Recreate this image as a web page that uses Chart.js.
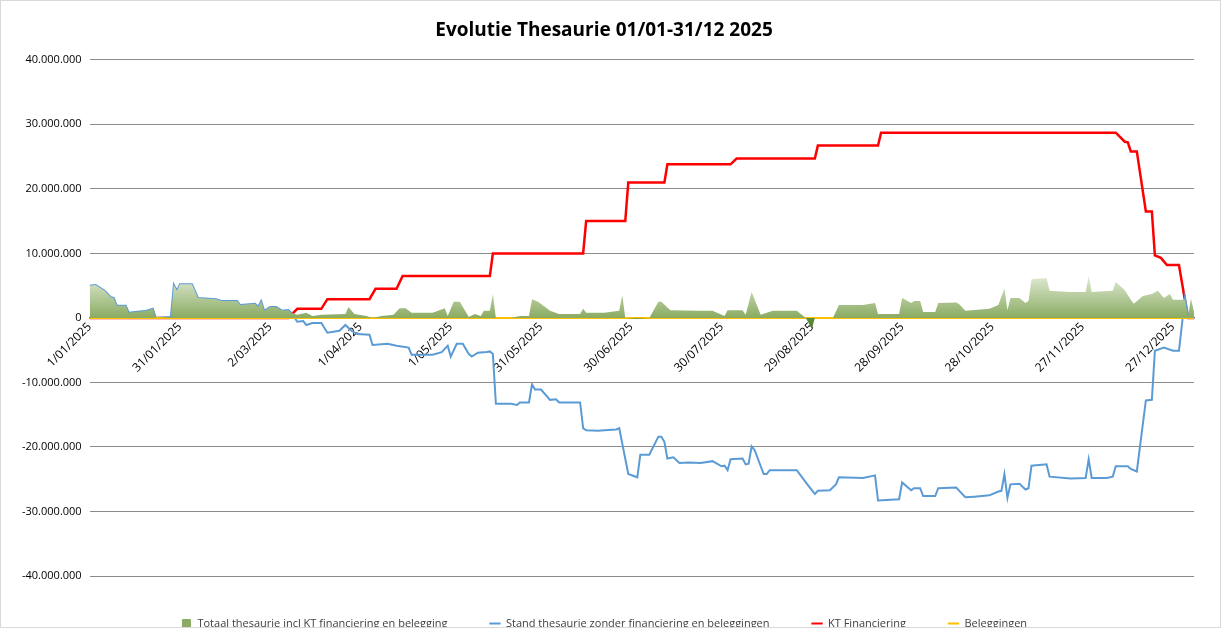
<!DOCTYPE html>
<html><head><meta charset="utf-8">
<script src="https://cdn.jsdelivr.net/npm/chart.js@4"></script>
<style>
html,body{margin:0;padding:0;background:#fff}
#wrap{position:absolute;left:0;top:0;width:1219px;height:626px;border:1px solid #d9d9d9}
</style></head><body>
<div id="wrap"><canvas id="c"></canvas></div>
<script>
const titleText = "Evolutie Thesaurie 01/01-31/12 2025";
const tickDays = [0,30,60,90,120,150,180,210,240,270,300,330,360];
const tickLabels = ["1/01/2025","31/01/2025","2/03/2025","1/04/2025","1/05/2025","31/05/2025","30/06/2025","30/07/2025","29/08/2025","28/09/2025","28/10/2025","27/11/2025","27/12/2025"];
const seriesNames = ["Totaal thesaurie incl KT financiering en belegging","Stand thesaurie zonder financiering en beleggingen","KT Financiering","Beleggingen"];
// [day, value in millions]
const standThesaurie = [[0,5.0],[2,5.1],[5,4.2],[7,3.2],[8,3.1],[9,1.9],[12,1.9],[13,0.8],[19,1.1],[21,1.4],[22,0],[27,0.15],[28,5.1],[29,4.2],[30,5.2],[34,5.2],[36,3.1],[42,2.9],[44,2.6],[49,2.6],[50,2.0],[55,2.2],[56,1.7],[57,2.6],[58,1.1],[60,1.7],[62,1.7],[64,1.1],[66,1.2],[67,0.8],[69,-0.6],[71,-0.5],[72,-1.1],[74,-0.8],[77,-0.8],[79,-2.3],[83,-2.0],[85,-1.1],[87,-2.0],[89,-2.5],[93,-2.6],[94,-4.2],[99,-4.0],[102,-4.3],[106,-4.6],[107,-5.7],[114,-5.7],[117,-5.3],[119,-4.3],[120,-6.0],[122,-4.0],[124,-4.0],[126,-5.6],[127,-6.0],[129,-5.4],[132,-5.3],[133,-5.2],[134,-5.6],[135,-13.3],[140,-13.3],[142,-13.5],[143,-13.1],[146,-13.1],[147,-10.3],[148,-11.1],[150,-11.1],[153,-12.7],[155,-12.6],[156,-13.1],[163,-13.1],[164,-17.1],[165,-17.4],[169,-17.5],[171,-17.4],[175,-17.3],[176,-17.1],[179,-24.2],[182,-24.7],[183,-21.2],[186,-21.2],[189,-18.4],[190,-18.4],[191,-19.2],[192,-21.8],[194,-21.6],[196,-22.5],[199,-22.4],[203,-22.5],[207,-22.2],[210,-23.0],[211,-22.9],[212,-23.6],[213,-21.9],[217,-21.8],[218,-22.7],[219,-22.6],[220,-19.9],[221,-20.5],[224,-24.2],[225,-24.2],[226,-23.6],[235,-23.6],[238,-25.5],[240,-26.7],[241,-27.3],[242,-26.8],[246,-26.7],[248,-25.8],[249,-24.7],[257,-24.8],[261,-24.4],[262,-28.3],[269,-28.1],[270,-25.5],[273,-26.7],[274,-26.4],[276,-26.4],[277,-27.6],[281,-27.6],[282,-26.4],[288,-26.3],[289,-26.8],[291,-27.8],[294,-27.7],[299,-27.5],[302,-26.9],[303,-26.8],[304,-24.2],[305,-27.9],[306,-25.8],[309,-25.7],[311,-26.6],[312,-26.4],[313,-22.9],[318,-22.7],[319,-24.6],[326,-24.9],[331,-24.8],[332,-21.9],[333,-24.8],[338,-24.8],[340,-24.6],[341,-23.0],[345,-23.0],[346,-23.4],[348,-23.8],[351,-12.8],[353,-12.7],[354,-5.1],[357,-4.6],[360,-5.1],[362,-5.1],[364,3.1],[365,0.5],[367,0.9]];
const ktFinanciering = [[0,0],[66,0],[69,1.4],[77,1.4],[79,2.9],[93,2.9],[95,4.5],[102,4.5],[104,6.5],[133,6.5],[134,10.0],[164,10.0],[165,15.0],[178,15.0],[179,21.0],[191,21.0],[192,23.8],[213,23.8],[215,24.7],[241,24.7],[242,26.7],[262,26.7],[263,28.7],[341,28.7],[344,27.3],[345,27.2],[346,25.8],[348,25.8],[351,16.5],[353,16.5],[354,9.7],[356,9.3],[358,8.2],[362,8.2],[365,0],[367,0]];
const totaalThesaurie = [[0,5.0],[2,5.1],[5,4.2],[7,3.2],[8,3.1],[9,1.9],[12,1.9],[13,0.8],[19,1.1],[21,1.4],[22,0],[27,0.15],[28,5.1],[29,4.2],[30,5.2],[34,5.2],[36,3.1],[42,2.9],[44,2.6],[49,2.6],[50,2.0],[55,2.2],[56,1.7],[57,2.6],[58,1.1],[60,1.7],[62,1.7],[64,1.1],[66,1.2],[67,0.8],[69,0.5],[72,0.8],[74,0.3],[77,0.5],[85,0.6],[86,1.7],[88,0.6],[92,0.3],[94,0],[97,0.3],[101,0.5],[103,1.5],[105,1.5],[107,0.8],[114,0.8],[118,1.5],[119,0.3],[121,2.5],[123,2.5],[126,0.15],[128,0.6],[130,0.3],[131,1.1],[133,1.1],[134,3.7],[135,0],[140,0],[143,0.3],[146,0.3],[147,2.9],[149,2.5],[153,1.1],[156,0.6],[163,0.6],[164,1.4],[165,0.8],[171,0.8],[176,1.1],[177,3.6],[178,0],[182,-0.15],[186,0],[189,2.5],[190,2.5],[193,1.2],[203,1.1],[207,1.1],[211,0.3],[212,1.2],[217,1.2],[218,0.5],[220,4.0],[223,0.5],[227,1.1],[235,1.1],[238,0],[240,-1.7],[241,0],[247,0],[249,2.0],[257,2.0],[261,2.3],[262,0.6],[269,0.6],[270,3.1],[273,2.3],[274,2.6],[276,2.6],[277,0.9],[281,0.9],[282,2.3],[288,2.4],[289,2.1],[291,1.1],[299,1.4],[302,2.0],[304,4.6],[305,1.2],[306,3.1],[309,3.1],[311,2.3],[312,2.6],[313,6.0],[318,6.2],[319,4.2],[326,4.0],[331,4.0],[332,6.5],[333,4.0],[340,4.2],[341,5.6],[344,4.3],[346,2.8],[347,2.2],[350,3.4],[353,3.7],[355,4.2],[357,3.1],[359,3.7],[360,2.8],[364,2.8],[365,0.2],[366,3.0],[367,0.9]];
const beleggingen = [[0,0],[367,0]];

const toXY = a => a.map(p => ({x:p[0], y:p[1]*1e6}));
function areaFill(ctx){
  const ch = ctx.chart, ca = ch.chartArea;
  if(!ca) return '#a9c48a';
  const y = ch.scales.y;
  const z = y.getPixelForValue(0), t = y.getPixelForValue(7e6), b = y.getPixelForValue(-2e6);
  const g = ch.ctx.createLinearGradient(0,t,0,b);
  const f = (z-t)/(b-t);
  g.addColorStop(0,'#e6efdc');
  g.addColorStop(f*0.999,'#8aab62');
  g.addColorStop(Math.min(1,f+0.001),'#5f8f3a');
  g.addColorStop(1,'#3f7a25');
  return g;
}
const fmt = v => { const s = Math.abs(v).toFixed(0).replace(/\B(?=(\d{3})+(?!\d))/g,'.'); return (v<0?'-':'')+s; };

new Chart(document.getElementById('c'),{
  type:'line',
  data:{datasets:[
    {label:seriesNames[0],data:toXY(totaalThesaurie),fill:'origin',backgroundColor:areaFill,borderWidth:0,borderColor:'rgba(0,0,0,0)',pointRadius:0,tension:0,order:1},
    {label:seriesNames[1],data:toXY(standThesaurie),borderColor:'#5b9bd5',borderWidth:2,pointRadius:0,fill:false,order:3},
    {label:seriesNames[2],data:toXY(ktFinanciering),borderColor:'#ff0000',borderWidth:2.5,pointRadius:0,fill:false,order:4},
    {label:seriesNames[3],data:toXY(beleggingen),borderColor:'#ffc000',borderWidth:2,pointRadius:0,fill:false,order:2}
  ]},
  options:{
    responsive:true,maintainAspectRatio:false,animation:false,
    layout:{padding:{left:13,right:26,top:4,bottom:-12}},
    plugins:{
      title:{display:true,text:titleText,color:'#000',font:{family:'Open Sans',size:19,weight:'bold'},padding:{top:14,bottom:18}},
      legend:{position:'bottom',labels:{usePointStyle:true,boxWidth:30,boxHeight:8,color:'#404040',font:{family:'Open Sans',size:11},padding:42,
        sort:(a,b)=>a.datasetIndex-b.datasetIndex,
        generateLabels(chart){
          const items = Chart.defaults.plugins.legend.labels.generateLabels(chart);
          items.forEach(it=>{
            const ds = chart.data.datasets[it.datasetIndex];
            it.text = ds.label;
            if(it.datasetIndex===0){it.pointStyle='rect';it.fillStyle='#8aab62';it.strokeStyle='#8aab62';it.lineWidth=1;}
            else {it.pointStyle='line';it.strokeStyle=ds.borderColor;it.fillStyle=ds.borderColor;it.lineWidth=2;}
          });
          return items;
        }}},
      tooltip:{enabled:false}
    },
    scales:{
      x:{type:'linear',min:0,max:367,position:{y:0},
        grid:{display:false,drawTicks:false},border:{display:true,color:'#808080',width:1.5},
        afterBuildTicks(s){ s.ticks = tickDays.map(v=>({value:v})); },
        ticks:{autoSkip:false,maxRotation:45,minRotation:45,color:'#000',font:{family:'Open Sans',size:12},padding:2,
          callback:(v)=>{const i=tickDays.indexOf(v);return i>=0?tickLabels[i]:'';}}
      },
      y:{min:-40e6,max:40e6,
        afterBuildTicks(s){ s.ticks=[]; for(let v=-40e6; v<=40e6; v+=10e6) s.ticks.push({value:v}); },
        grid:{color:'#8c8c8c',lineWidth:1,drawTicks:false},border:{display:false},
        ticks:{color:'#000',font:{family:'Open Sans',size:11},padding:8,callback:v=>fmt(v)}
      }
    }
  }
});
</script></body></html>
